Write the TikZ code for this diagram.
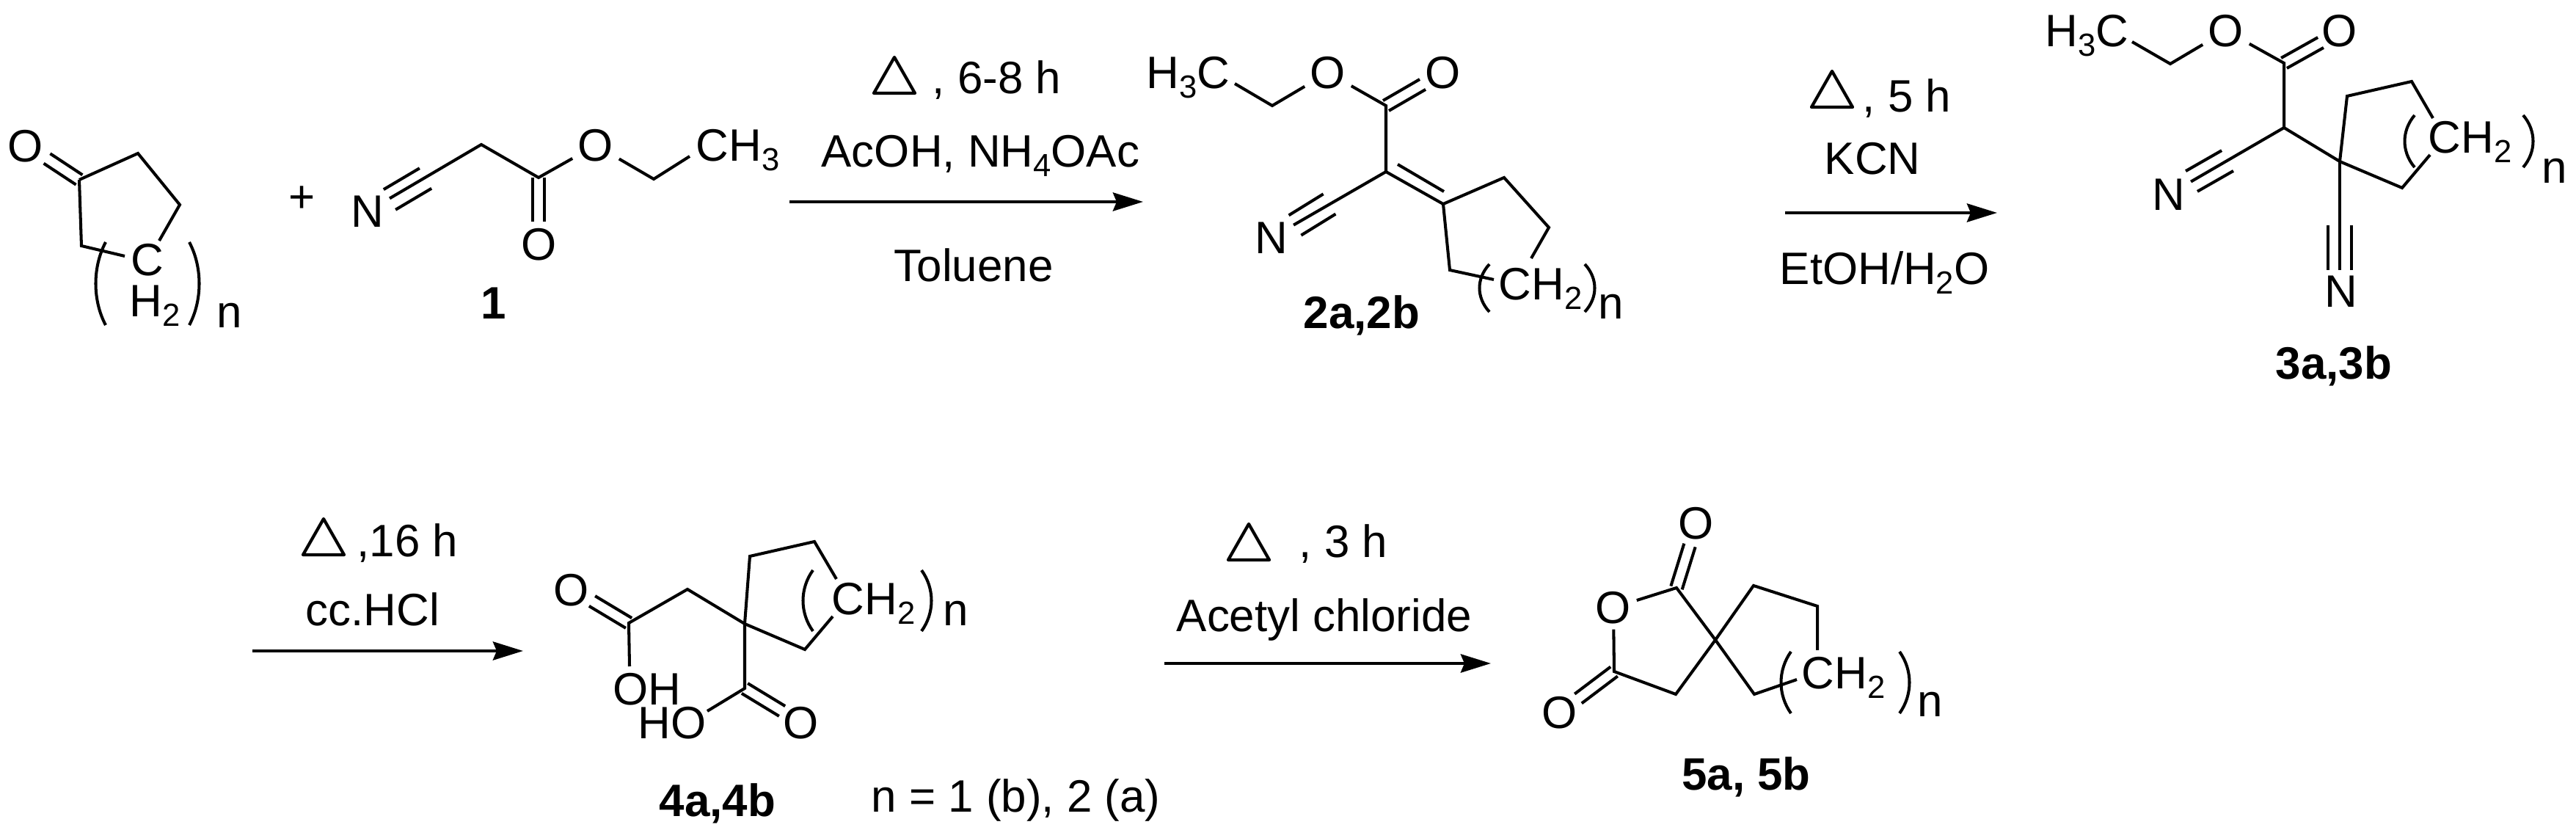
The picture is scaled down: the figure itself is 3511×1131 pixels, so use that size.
\documentclass[tikz,border=0pt]{standalone}
\usepackage{fontspec}
\setmainfont{Liberation Sans}
\usetikzlibrary{calc}
\usetikzlibrary{arrows.meta}
\tikzset{
  every node/.style={font=\fontsize{17.6}{20}\selectfont},
  bond/.style={line width=1.15pt},
  rxn/.style={line width=1.3pt, -{Stealth[length=0.41cm,width=0.25cm,inset=0.05cm]}},
  atom/.style={inner sep=2pt},
  lbl/.style={inner sep=0pt, anchor=base west},
  cmpd/.style={inner sep=0pt, anchor=base, font=\fontsize{17.6}{20}\selectfont\bfseries},
}
\newcommand{\sbs}[1]{\raisebox{-0.2em}{\fontsize{12.4}{14}\selectfont #1}}
% double bond, two strokes about the line a-b
\newcommand{\dbl}[2]{
  \draw[bond] ($(#1)!0.08cm!90:(#2)$) -- ($(#2)!0.08cm!-90:(#1)$);
  \draw[bond] ($(#1)!0.08cm!-90:(#2)$) -- ($(#2)!0.08cm!90:(#1)$);
}
% outer strokes of a triple bond
\newcommand{\tpl}[2]{
  \draw[bond] ($(#1)!0.16cm!90:(#2)$) -- ($(#2)!0.16cm!-90:(#1)$);
  \draw[bond] ($(#1)!0.16cm!-90:(#2)$) -- ($(#2)!0.16cm!90:(#1)$);
}
\newcommand{\parenpair}[4]{
  \draw[bond] (#1,#3) .. controls ({#1-18},{#3+0.3*(#4-#3)}) and ({#1-18},{#3+0.7*(#4-#3)}) .. (#1,#4);
  \draw[bond] (#2,#3) .. controls ({#2+18},{#3+0.3*(#4-#3)}) and ({#2+18},{#3+0.7*(#4-#3)}) .. (#2,#4);
}
\newcommand{\heat}[2]{
  \draw[line width=1.2pt, line join=round] (#1,#2) -- ({#1-28},{#2+49}) -- ({#1+28},{#2+49}) -- cycle;
}
\begin{document}
\begin{tikzpicture}[x=0.01cm,y=-0.01cm]
  \useasboundingbox (0,0) rectangle (3511,1131);

  % ketone
  \node[atom] (aO) at (35,199) {O};
  \coordinate (aE) at (64,216);
  \coordinate (aC1) at (108,245);
  \coordinate (aC2) at (188,209);
  \coordinate (aC3) at (245,279);
  \coordinate (aC4) at (217,328);
  \coordinate (aC5) at (111,335);
  \coordinate (aC6) at (170,349);
  \dbl{aC1}{aE}
  \draw[bond] (aC1) -- (aC2) -- (aC3) -- (aC4);
  \draw[bond] (aC1) -- (aC5) -- (aC6);
  \node[lbl] (aCt) at (178,376) {C};
  \node[lbl] (aH) at (176,432) {H\sbs{2}};
  \node[lbl] (an) at (295,447) {n};
  \parenpair{144}{258}{330}{443}

  \node[atom] (plus) at (412,272) {+};

  % cyanoacetate
  \node[atom] (bN) at (501,288) {N};
  \node[atom] (bO1) at (812,198) {O};
  \node[atom] (bO2) at (735,333) {O};
  \node[lbl] (bMe) at (948,220) {CH\sbs{3}};
  \coordinate (bCH) at (656,197);
  \coordinate (bC) at (734,242);
  \coordinate (bE) at (734,302);
  \coordinate (bF) at (891,244);
  \coordinate (bG) at (940,213);
  \coordinate (bT1) at (531,272);
  \coordinate (bT2) at (580,243);
  \draw[bond] (bN) -- (bCH) -- (bC) -- (bO1) -- (bF) -- (bG);
  \dbl{bC}{bE}
  \tpl{bT2}{bT1}
  \node[cmpd] (bLab) at (673,435) {1};

  % step 1
  \coordinate (r1s) at (1076,275);
  \coordinate (r1e) at (1558,275);
  \draw[rxn] (r1s) -- (r1e);
  \heat{1219}{78}
  \node[lbl] (r1a) at (1270,128) {, 6-8 h};
  \node[lbl] (r1b) at (1119,228) {AcOH, NH\sbs{4}OAc};
  \node[lbl] (r1c) at (1218,384) {Toluene};

  % ylidene
  \node[lbl] (cMe) at (1562,121) {H\sbs{3}C};
  \node[atom] (cO1) at (1810,99) {O};
  \node[atom] (cO2) at (1967,99) {O};
  \node[atom] (cN) at (1733,324) {N};
  \coordinate (cA) at (1683,114);
  \coordinate (cB) at (1734,144);
  \coordinate (cC) at (1889,144);
  \coordinate (cD) at (1889,234);
  \coordinate (cE) at (1939,115);
  \coordinate (cF) at (1967,278);
  \coordinate (cG) at (2050,242);
  \coordinate (cH) at (2111,310);
  \coordinate (cI) at (2087,352);
  \coordinate (cJ) at (1976,368);
  \coordinate (cK) at (2036,381);
  \coordinate (cL) at (1905,224);
  \coordinate (cM) at (1968,261);
  \coordinate (cT1) at (1765,307);
  \coordinate (cT2) at (1812,278);
  \draw[bond] (cA) -- (cB) -- (cO1) -- (cC) -- (cD) -- (cF) -- (cG) -- (cH) -- (cI);
  \draw[bond] (cF) -- (cJ) -- (cK);
  \draw[bond] (cD) -- (cN);
  \draw[bond] (cL) -- (cM);
  \dbl{cC}{cE}
  \tpl{cT2}{cT1}
  \node[lbl] (cCH) at (2042,409) {CH\sbs{2}};
  \node[lbl] (cn) at (2178,435) {n};
  \parenpair{2030}{2160}{360}{425}
  \node[cmpd] (cLab) at (1856,448) {2a,2b};

  % step 2
  \coordinate (r2s) at (2433,290);
  \coordinate (r2e) at (2722,290);
  \draw[rxn] (r2s) -- (r2e);
  \heat{2497}{97}
  \node[lbl] (r2a) at (2538,153) {, 5 h};
  \node[lbl] (r2b) at (2486,238) {KCN};
  \node[lbl] (r2c) at (2425,388) {EtOH/H\sbs{2}O};

  % dinitrile
  \node[lbl] (dMe) at (2787,64) {H\sbs{3}C};
  \node[atom] (dO1) at (3034,42) {O};
  \node[atom] (dO2) at (3189,42) {O};
  \node[atom] (dN1) at (2956,265) {N};
  \node[atom] (dN2) at (3191,397) {N};
  \coordinate (dA) at (2906,57);
  \coordinate (dB) at (2958,87);
  \coordinate (dC) at (3113,86);
  \coordinate (dD) at (3113,174);
  \coordinate (dE) at (3163,58);
  \coordinate (dQ) at (3189,220);
  \coordinate (dR) at (3199,131);
  \coordinate (dS) at (3287,111);
  \coordinate (dU) at (3316,161);
  \coordinate (dV) at (3274,256);
  \coordinate (dW) at (3312,211);
  \coordinate (dX) at (3189,368);
  \coordinate (dY) at (3189,307);
  \coordinate (dT1) at (2987,247);
  \coordinate (dT2) at (3036,219);
  \draw[bond] (dA) -- (dB) -- (dO1) -- (dC) -- (dD) -- (dQ) -- (dR) -- (dS) -- (dU);
  \draw[bond] (dQ) -- (dV) -- (dW);
  \draw[bond] (dQ) -- (dX);
  \draw[bond] (dD) -- (dN1);
  \dbl{dC}{dE}
  \tpl{dT2}{dT1}
  \tpl{dY}{dX}
  \node[lbl] (dCH) at (3309,209) {CH\sbs{2}};
  \node[lbl] (dn) at (3464,250) {n};
  \parenpair{3291}{3439}{157}{228}
  \node[cmpd] (dLab) at (3181,517) {3a,3b};

  % step 3
  \coordinate (r3s) at (344,887);
  \coordinate (r3e) at (713,887);
  \draw[rxn] (r3s) -- (r3e);
  \heat{441}{707}
  \node[lbl] (r3a) at (486,759) {,16 h};
  \node[lbl] (r3b) at (416,853) {cc.HCl};

  % diacid
  \node[atom] (eO1) at (779,804) {O};
  \node[atom] (eO2) at (1092,985) {O};
  \node[lbl] (eOH) at (835,961) {OH};
  \node[lbl] (eHO) at (869,1007) {HO};
  \coordinate (eA) at (807,819);
  \coordinate (eC) at (857,849);
  \coordinate (eB) at (937,803);
  \coordinate (eQ) at (1015,850);
  \coordinate (eD) at (858,908);
  \coordinate (eF) at (1022,758);
  \coordinate (eG) at (1110,738);
  \coordinate (eH) at (1140,789);
  \coordinate (eJ) at (1097,885);
  \coordinate (eK) at (1135,840);
  \coordinate (eL) at (1015,938);
  \coordinate (eM) at (964,969);
  \coordinate (eN) at (1066,969);
  \draw[bond] (eD) -- (eC) -- (eB) -- (eQ) -- (eF) -- (eG) -- (eH);
  \draw[bond] (eQ) -- (eJ) -- (eK);
  \draw[bond] (eQ) -- (eL) -- (eM);
  \dbl{eC}{eA}
  \dbl{eL}{eN}
  \node[lbl] (eCH) at (1133,838) {CH\sbs{2}};
  \node[lbl] (en) at (1285,853) {n};
  \parenpair{1108}{1256}{777}{860}
  \node[cmpd] (eLab) at (978,1112) {4a,4b};
  \node[lbl] (nNote) at (1187,1106) {n = 1 (b), 2 (a)};

  % step 4
  \coordinate (r4s) at (1587,904);
  \coordinate (r4e) at (2032,904);
  \draw[rxn] (r4s) -- (r4e);
  \heat{1702}{714}
  \node[lbl] (r4a) at (1770,760) {, 3 h};
  \node[lbl] (r4b) at (1603,861) {Acetyl chloride};

  % anhydride
  \node[atom] (fO1) at (2312,713) {O};
  \node[atom] (fO2) at (2199,828) {O};
  \node[atom] (fO3) at (2126,971) {O};
  \coordinate (fE) at (2303,743);
  \coordinate (fA) at (2285,801);
  \coordinate (fB) at (2200,915);
  \coordinate (fF) at (2151,952);
  \coordinate (fC) at (2284,946);
  \coordinate (fQ) at (2338,872);
  \coordinate (fG) at (2390,798);
  \coordinate (fH) at (2477,826);
  \coordinate (fI) at (2477,886);
  \coordinate (fJ) at (2391,946);
  \coordinate (fK) at (2449,926);
  \draw[bond] (fQ) -- (fA) -- (fO2) -- (fB) -- (fC) -- (fQ) -- (fG) -- (fH) -- (fI);
  \draw[bond] (fQ) -- (fJ) -- (fK);
  \dbl{fA}{fE}
  \dbl{fB}{fF}
  \node[lbl] (fCH) at (2455,939) {CH\sbs{2}};
  \node[lbl] (fn) at (2613,976) {n};
  \parenpair{2441}{2589}{888}{972}
  \node[cmpd] (fLab) at (2380,1077) {5a, 5b};
\end{tikzpicture}
\end{document}
